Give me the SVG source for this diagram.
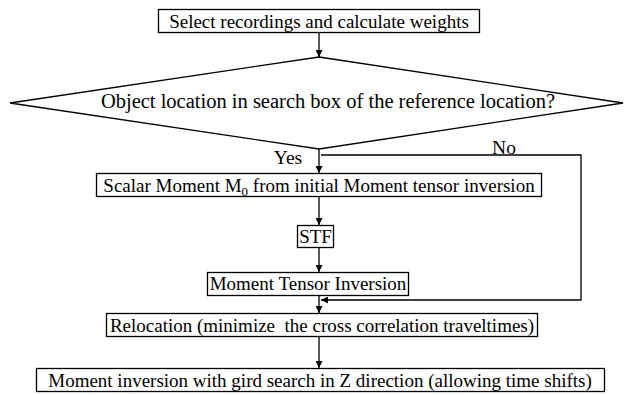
<svg xmlns="http://www.w3.org/2000/svg" width="624" height="395" viewBox="0 0 624 395">
<defs>
<marker id="ah" viewBox="0 0 10 10" refX="10" refY="5" markerWidth="7" markerHeight="7" markerUnits="userSpaceOnUse" orient="auto">
<path d="M0,0 L10,5 L0,10 z" fill="#000"/>
</marker>
<style>
.box{fill:#fff;stroke:#000;stroke-width:1.3}
.t{font-family:"Liberation Serif","Times New Roman",serif;font-size:19px;fill:#000;text-anchor:middle;white-space:pre}
.c{fill:none;stroke:#000;stroke-width:1.3}
</style>
</defs>
<rect width="624" height="395" fill="#fff"/>
<g id="connectors">
<path class="c" d="M319,32 V57" marker-end="url(#ah)"/>
<path class="c" d="M319,149 V173" marker-end="url(#ah)"/>
<path class="c" d="M321,155 H581 V300 H321" marker-end="url(#ah)"/>
<path class="c" d="M319,197 V225" marker-end="url(#ah)"/>
<path class="c" d="M319,248 V272" marker-end="url(#ah)"/>
<path class="c" d="M319,295 V313" marker-end="url(#ah)"/>
<path class="c" d="M319,337 V368" marker-end="url(#ah)"/>
<text class="t" x="288" y="164" style="font-size:19.5px">Yes</text>
<text class="t" x="504" y="154" style="font-size:19.5px">No</text>
</g>
<g id="n1">
<rect class="box" x="158.5" y="9.5" width="321" height="23"/>
<text class="t" x="319" y="27.5">Select recordings and calculate weights</text>
</g>
<g id="n2">
<polygon class="box" points="319,57 623,103 319,149 10,103"/>
<text class="t" x="328" y="108" style="font-size:20.5px">Object location in search box of the reference location?</text>
</g>
<g id="n3">
<rect class="box" x="96.5" y="173.5" width="445" height="23"/>
<text class="t" x="319" y="191.5">Scalar Moment M<tspan font-size="13" dy="4">0</tspan><tspan dy="-4"> from initial Moment tensor inversion</tspan></text>
</g>
<g id="n4">
<rect class="box" x="297.5" y="225.5" width="36" height="22"/>
<text class="t" x="315.5" y="243">STF</text>
</g>
<g id="n5">
<rect class="box" x="207.5" y="272.5" width="201" height="23"/>
<text class="t" x="308" y="290">Moment Tensor Inversion</text>
</g>
<g id="n6">
<rect class="box" x="106.5" y="313.5" width="431" height="23"/>
<text class="t" x="322" y="331.5">Relocation (minimize  the cross correlation traveltimes)</text>
</g>
<g id="n7">
<rect class="box" x="36.5" y="368.5" width="568" height="23"/>
<text class="t" x="320" y="386.5">Moment inversion with gird search in Z direction (allowing time shifts)</text>
</g>
</svg>
